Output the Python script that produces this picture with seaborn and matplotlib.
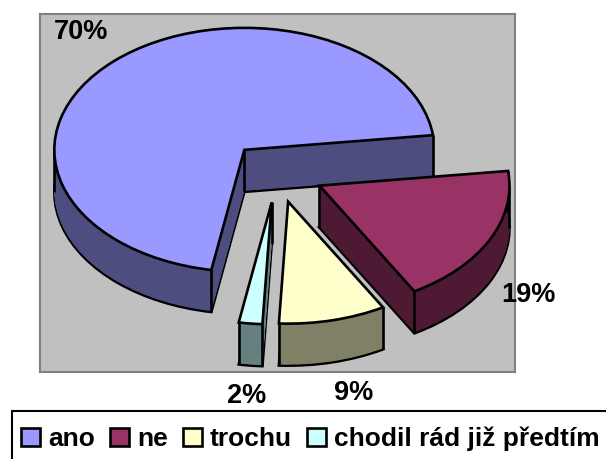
import numpy as np
import seaborn as sns
import matplotlib.pyplot as plt
from matplotlib.patches import Rectangle

categories = ["ano", "ne", "trochu", "chodil rád již předtím"]
values = [70.3, 18.6, 9.1, 2]
pct_labels = ["70%", "19%", "9%", "2%"]

top_colors = ["#9999FF", "#993366", "#FFFFCC", "#CCFFFF"]
side_colors = ["#4D4D80", "#4D1933", "#808066", "#668080"]

W, H = 606, 459
sns.set_theme(style="white")
plt.rcParams["font.family"] = ["Liberation Sans", "DejaVu Sans"]
plt.rcParams["font.weight"] = "bold"
plt.rcParams["text.color"] = "black"

fig = plt.figure(figsize=(W / 100, H / 100), dpi=100)
# plot box in pixels of the picture
ax = fig.add_axes([40 / W, 1 - 372 / H, 475 / W, 358 / H])

depth = 42 / 122
n_layers = 40
explode = [0.25] * len(values)
start = 260
line = "black"
lw = 1.9


def draw_pie(center_y, colors, edge):
    wedges, _ = ax.pie(values, explode=explode, colors=colors, startangle=start,
                       counterclock=False, center=(0, center_y), radius=1,
                       wedgeprops={"edgecolor": edge, "linewidth": lw if edge != "none" else 0})
    return wedges


# bottom of the slices, then the sides stacked up, then the top
for k, w in enumerate(draw_pie(-depth, side_colors, line)):
    w.set_zorder(10 * k + 1)
for j in range(1, n_layers):
    for k, w in enumerate(draw_pie(-depth + depth * j / n_layers, side_colors, "none")):
        w.set_zorder(10 * k + 2)
top = draw_pie(0, top_colors, line)

for k, w in enumerate(top):
    w.set_zorder(10 * k + 5)
    cx, cy = w.center
    xs = [cx]
    ys = [cy]
    for a in [w.theta1, w.theta2] + [t for t in (-180, 0, 180, 360) if w.theta1 < t < w.theta2]:
        xs.append(cx + w.r * np.cos(np.radians(a)))
        ys.append(cy + w.r * np.sin(np.radians(a)))
    ax.vlines(xs, [y - depth for y in ys], ys, colors=line, linewidth=lw, zorder=10 * k + 3)

ax.set_aspect("auto")
ax.set_xlim((40 - 277) / 190, (515 - 277) / 190)
ax.set_ylim(-(372 - 172) / 122, (172 - 14) / 122)
ax.set_facecolor("#C0C0C0")
ax.set_frame_on(True)
for s in ax.spines.values():
    s.set_color("#808080")
    s.set_linewidth(1.5)

# percent labels
label_px = [(81, 32), (528, 295), (354, 393), (247, 396)]
for txt, (px, py) in zip(pct_labels, label_px):
    fig.text(px / W, 1 - py / H, txt, ha="center", va="center", fontsize=19.5,
             fontweight="bold", color="black", zorder=50)

# legend box runs off the picture on the right and bottom
fig.add_artist(Rectangle((12 / W, -0.02), 1.0, 1 - 411 / H + 0.02, transform=fig.transFigure,
                         facecolor="white", edgecolor="black", linewidth=1.5))
leg = fig.legend(top, categories, loc="center left", bbox_to_anchor=(21 / W, 1 - 439 / H),
                 ncol=4, frameon=False, fontsize=19, handlelength=0.72, handleheight=0.72,
                 handletextpad=0.3, columnspacing=0.58, borderpad=0, borderaxespad=0,
                 labelspacing=0, labelcolor="black")

fig.savefig("out.png", dpi=100)
